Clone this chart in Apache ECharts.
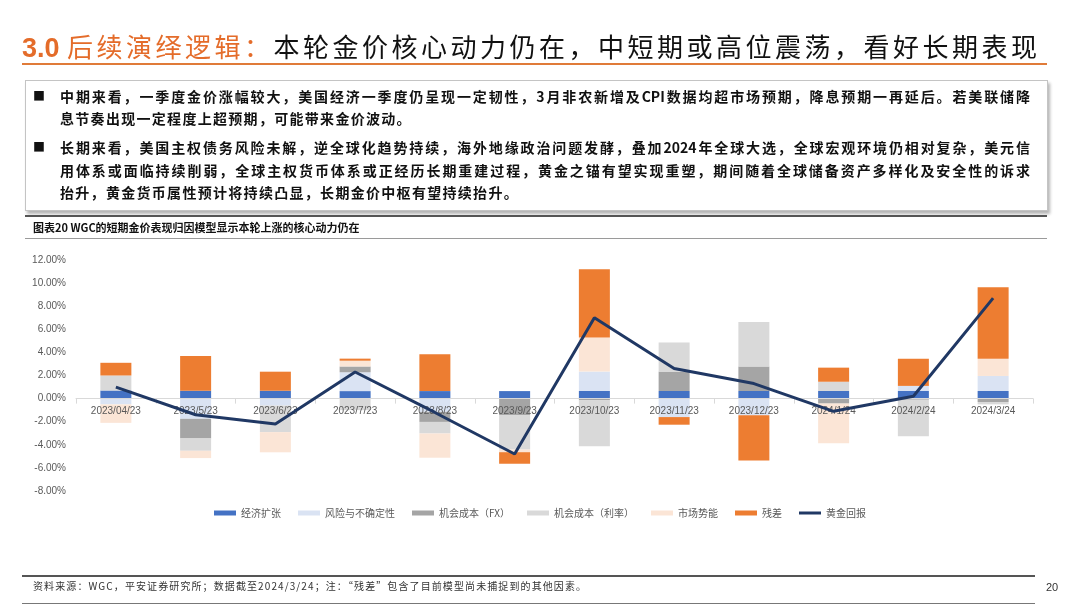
<!DOCTYPE html>
<html>
<head>
<meta charset="utf-8">
<script src="https://cdn.jsdelivr.net/npm/echarts@6/dist/echarts.min.js"></script>
<style>
  html, body { margin:0; padding:0; background:#fff; }
  body { width:1080px; height:608px; position:relative; overflow:hidden; font-family:"Noto Sans CJK SC", "Liberation Sans", sans-serif; }
  #chart { position:absolute; left:0; top:0; width:1080px; height:608px; }
  .abs { position:absolute; white-space:nowrap; }
  .title { left:22px; top:26px; font-size:26px; letter-spacing:3.5px; color:#111; line-height:40px; }
  .title .num { font-family:"Liberation Sans", Arial, sans-serif; font-weight:bold; color:#E46C2A; letter-spacing:0; font-size:27px; }
  .title .or { color:#E46C2A; }
  .rule { position:absolute; background:#E07B39; }
  .box { position:absolute; left:25px; top:80px; width:1021px; height:129px; border:1px solid #c4c4c4; box-shadow:2px 3px 3px #b5b5b5; background:transparent; }
  .ln { position:absolute; left:60px; width:970px; font-size:14px; font-weight:bold; color:#111; line-height:20px; white-space:nowrap; }
  .full { text-align:justify; text-align-last:justify; }
  .bul { position:absolute; left:33px; font-size:12px; color:#111; line-height:20px; }
  .hl { position:absolute; }
  .cap { left:33px; top:219px; font-size:11px; font-weight:bold; color:#111; line-height:16px; }
  .foot { left:33px; top:579px; font-size:10px; letter-spacing:1.1px; color:#333; line-height:14px; }
  .pg { left:1046px; top:581px; font-size:11px; color:#333; font-family:"Liberation Sans", Arial, sans-serif; }
</style>
</head>
<body>
<div id="chart"></div>

<div class="abs title"><span class="num">3.0 </span><span class="or">后续演绎逻辑：</span>本轮金价核心动力仍在，中短期或高位震荡，看好长期表现</div>
<div class="rule" style="left:22px; top:63px; width:1025px; height:2px;"></div>

<div class="box"></div>
<div class="bul" style="top:86px;">■</div>
<div class="ln full" style="top:86px;">中期来看，一季度金价涨幅较大，美国经济一季度仍呈现一定韧性，3月非农新增及CPI数据均超市场预期，降息预期一再延后。若美联储降</div>
<div class="ln" style="top:108px; letter-spacing:1.3px;">息节奏出现一定程度上超预期，可能带来金价波动。</div>
<div class="bul" style="top:137px;">■</div>
<div class="ln full" style="top:137px;">长期来看，美国主权债务风险未解，逆全球化趋势持续，海外地缘政治问题发酵，叠加2024年全球大选，全球宏观环境仍相对复杂，美元信</div>
<div class="ln full" style="top:160px;">用体系或面临持续削弱，全球主权货币体系或正经历长期重建过程，黄金之锚有望实现重塑，期间随着全球储备资产多样化及安全性的诉求</div>
<div class="ln" style="top:182px; letter-spacing:1.3px;">抬升，黄金货币属性预计将持续凸显，长期金价中枢有望持续抬升。</div>

<div class="hl" style="left:25px; top:215px; width:1022px; height:2px; background:#555;"></div>
<div class="abs cap">图表20 WGC的短期金价表现归因模型显示本轮上涨的核心动力仍在</div>
<div class="hl" style="left:25px; top:238px; width:1022px; height:1px; background:#9a9a9a;"></div>

<div class="hl" style="left:22px; top:575px; width:1013px; height:2px; background:#555;"></div>
<div class="abs foot">资料来源：WGC，平安证券研究所；数据截至2024/3/24；注：“残差”包含了目前模型尚未捕捉到的其他因素。</div>
<div class="hl" style="left:22px; top:603px; width:1013px; height:1px; background:#777;"></div>
<div class="abs pg">20</div>

<script>
// ---- data ----
var categories = ['2023/04/23','2023/5/23','2023/6/23','2023/7/23','2023/8/23','2023/9/23','2023/10/23','2023/11/23','2023/12/23','2024/1/24','2024/2/24','2024/3/24'];
var seriesNames = ['经济扩张','风险与不确定性','机会成本（FX）','机会成本（利率）','市场势能','残差','黄金回报'];
var econExpansion   = [0.70, 0.68, 0.68, 0.65, 0.65, 0.65, 0.66, 0.66, 0.66, 0.66, 0.66, 0.66];
var riskUncertainty = [-0.50, -1.75, -0.60, 1.63, -1.15, 0.00, 1.68, -1.60, -1.45, 0.00, 0.44, 1.30];
var oppCostFX       = [0.00, -1.70, 0.00, 0.50, -0.87, -1.45, -0.15, 1.68, 2.12, -0.43, -0.10, -0.30];
var oppCostRate     = [1.30, -1.07, -2.30, -1.00, -1.00, -2.96, -3.97, 2.52, 3.86, 0.80, -3.15, -0.20];
var momentum        = [-1.60, -0.63, -1.75, 0.50, -2.10, -0.23, 2.96, 0.00, 0.00, -3.43, 0.00, 1.48];
var residual        = [1.10, 3.00, 1.65, 0.18, 3.20, -1.00, 5.90, -0.66, -3.92, 1.22, 2.35, 6.20];
var goldReturn      = [1.00, -1.40, -2.20, 2.30, -1.20, -4.80, 7.00, 2.60, 1.30, -1.10, 0.20, 8.70];
var yTicks = [-8, 12, 2]; // min, max, interval

var colors = ['#4472C4', '#DAE3F3', '#A5A5A5', '#D9D9D9', '#FBE5D6', '#ED7D31', '#203864'];
var barData = [econExpansion, riskUncertainty, oppCostFX, oppCostRate, momentum, residual];

var gridTop = 260, gridBottom = 117, H = 608;
var plotH = H - gridTop - gridBottom;
// distance from the bottom edge of the plot up to the zero line, so the category axis sits at 0
var zeroOffset = -plotH * (0 - yTicks[0]) / (yTicks[1] - yTicks[0]);

var chart = echarts.init(document.getElementById('chart'), null, {renderer:'canvas'});
var series = barData.map(function (d, i) {
  return {
    name: seriesNames[i], type: 'bar', stack: 'total', data: d, z: 2,
    barWidth: 31, itemStyle: { color: colors[i] }, emphasis: { disabled: true }
  };
});
series.push({
  name: seriesNames[6], type: 'line', data: goldReturn, symbol: 'none', z: 20,
  lineStyle: { color: colors[6], width: 3 }, itemStyle: { color: colors[6] }
});

chart.setOption({
  animation: false,
  textStyle: { fontFamily: '"Liberation Sans", "Noto Sans CJK SC", sans-serif' },
  grid: { left: 76, right: 47, top: gridTop, bottom: gridBottom },
  legend: {
    top: 503, left: 'center', itemWidth: 22, itemHeight: 5, itemGap: 17,
    textStyle: { fontSize: 10, color: '#595959', fontFamily: '"Noto Sans CJK SC", sans-serif' },
    data: seriesNames.map(function (n, i) {
      return i < 6 ? { name: n, icon: 'rect' } : { name: n, icon: 'path://M0,0 H22 V3 H0 Z' };
    })
  },
  xAxis: {
    type: 'category', data: categories, position: 'bottom', offset: zeroOffset, z: 10,
    axisLine: { onZero: false, lineStyle: { color: '#d9d9d9', width: 1 } },
    axisTick: { show: true, length: 5, lineStyle: { color: '#d9d9d9' } },
    axisLabel: { color: '#595959', fontSize: 10, interval: 0, margin: 8 }
  },
  yAxis: {
    type: 'value', min: yTicks[0], max: yTicks[1], interval: yTicks[2],
    axisLine: { show: false }, axisTick: { show: false }, splitLine: { show: false },
    axisLabel: { color: '#595959', fontSize: 10, margin: 10, formatter: function (v) { return v.toFixed(2) + '%'; } }
  },
  series: series
});
</script>
</body>
</html>
